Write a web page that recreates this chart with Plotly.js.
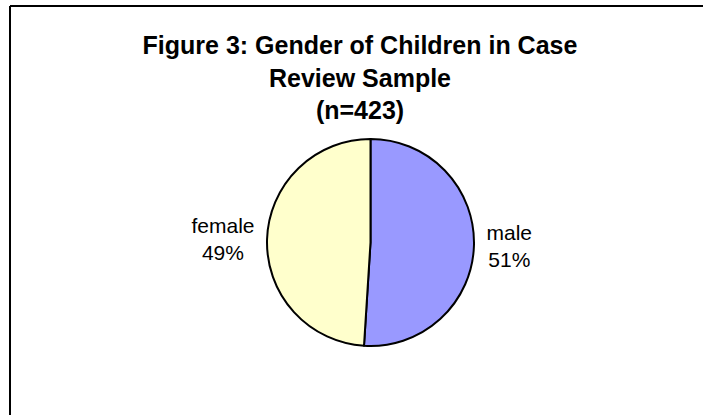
<!DOCTYPE html>
<html>
<head>
<meta charset="utf-8">
<script src="https://cdn.plot.ly/plotly-3.0.1.min.js"></script>
<style>
  html, body { margin: 0; padding: 0; background: #ffffff; }
  #chart { width: 703px; height: 415px; }
</style>
</head>
<body>
<div id="chart"></div>
<script>
const categories = ["male", "female"];
const percentValues = [51, 49];
const sliceColors = ["#9999FF", "#FFFFCC"];
const titleLines = ["Figure 3: Gender of Children in Case", "Review Sample", "(n=423)"];

const W = 703, H = 415;
const px = v => v / W;
const py = v => 1 - v / H;

const trace = {
  type: "pie",
  labels: categories,
  values: percentValues,
  sort: false,
  direction: "clockwise",
  rotation: 0,
  marker: { colors: sliceColors, line: { color: "#000000", width: 2 } },
  textposition: "outside",
  texttemplate: "%{label}<br>%{value}%",
  textfont: { family: "Liberation Sans, Arial, sans-serif", size: 21, color: "#000000" },
  hoverinfo: "none",
  showlegend: false,
  automargin: false,
  domain: { x: [px(267), px(474)], y: [py(346), py(139)] }
};

const layout = {
  width: W, height: H,
  margin: { l: 0, r: 0, t: 0, b: 0 },
  paper_bgcolor: "#ffffff",
  showlegend: false,
  title: {
    text: "<b>" + titleLines.join("<br>") + "</b>",
    font: { family: "Liberation Sans, Arial, sans-serif", size: 25, color: "#000000" },
    x: px(360), xanchor: "center", xref: "paper",
    y: py(54), yanchor: "top", yref: "paper"
  },
  shapes: [
    { type: "line", xref: "paper", yref: "paper", x0: px(10), x1: 1.01, y0: py(6), y1: py(6), line: { color: "#000000", width: 2 } },
    { type: "line", xref: "paper", yref: "paper", x0: px(10), x1: px(10), y0: py(6), y1: -0.01, line: { color: "#000000", width: 2 } }
  ]
};

Plotly.newPlot("chart", [trace], layout, { displayModeBar: false, staticPlot: true });
</script>
</body>
</html>
